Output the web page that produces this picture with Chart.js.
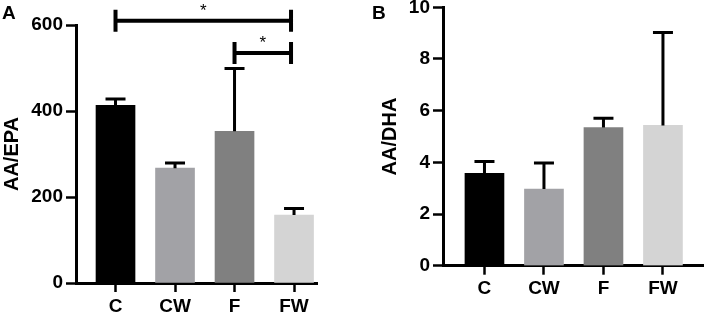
<!DOCTYPE html>
<html>
<head>
<meta charset="utf-8">
<script src="https://cdn.jsdelivr.net/npm/chart.js@4.4.0/dist/chart.umd.min.js"></script>
<style>
  html, body { margin: 0; padding: 0; background: #fff; }
  #wrap { position: relative; width: 706px; height: 315px; overflow: hidden; }
  .panel { position: absolute; top: 0; }
  .tag { position: absolute; font: bold 19px "Liberation Sans", Arial, sans-serif; line-height: 19px; color: #000; }
</style>
</head>
<body>
<div id="wrap">
  <canvas id="chartA" class="panel" style="left:0" width="350" height="315"></canvas>
  <canvas id="chartB" class="panel" style="left:350px" width="356" height="315"></canvas>
  <div class="tag" style="left:2px;top:3px">A</div>
  <div class="tag" style="left:372px;top:3px">B</div>
</div>
<script>
const groups = ['C', 'CW', 'F', 'FW'];
const barColors = ['#000000', '#a2a2a6', '#808080', '#d4d4d4'];

// panel A: AA/EPA, mean and upper error
const aaEpaMean = [413, 267, 353, 158];
const aaEpaErr = [15, 12, 146, 15];
const aaEpaTicks = [0, 200, 400, 600];

// significance brackets over panel A (group indexes, height in data units)
const sigPairs = [[0, 3], [2, 3]];
const sigLevels = [610, 535];
const sigMarks = ['*', '*'];

// panel B: AA/DHA
const aaDhaMean = [3.57, 2.97, 5.35, 5.43];
const aaDhaErr = [0.46, 1.0, 0.36, 3.59];
const aaDhaTicks = [0, 2, 4, 6, 8, 10];

const FONT = '"Liberation Sans", Arial, sans-serif';
Chart.defaults.font.family = FONT;
Chart.defaults.color = '#000';

// upward error bars with a cap
function errorBars(errors) {
  return {
    id: 'errorBars',
    afterDatasetsDraw(chart) {
      const { ctx, scales: { y } } = chart;
      const meta = chart.getDatasetMeta(0);
      const ds = chart.data.datasets[0];
      ctx.save();
      ctx.strokeStyle = '#000';
      ctx.lineWidth = 3;
      meta.data.forEach((bar, i) => {
        const top = y.getPixelForValue(ds.data[i].y + errors[i]);
        ctx.beginPath();
        ctx.moveTo(bar.x, bar.y);
        ctx.lineTo(bar.x, top);
        ctx.moveTo(bar.x - 10, top);
        ctx.lineTo(bar.x + 10, top);
        ctx.stroke();
      });
      ctx.restore();
    }
  };
}

const brackets = {
  id: 'brackets',
  afterDraw(chart) {
    const { ctx, scales: { x, y } } = chart;
    ctx.save();
    ctx.strokeStyle = '#000';
    ctx.fillStyle = '#000';
    ctx.lineWidth = 4;
    ctx.font = '17px ' + FONT;
    ctx.textAlign = 'center';
    ctx.textBaseline = 'alphabetic';
    sigPairs.forEach(([a, b], k) => {
      const x0 = x.getPixelForValue(a + 1);
      const x1 = x.getPixelForValue(b + 1) - 3;
      const yy = y.getPixelForValue(sigLevels[k]);
      ctx.beginPath();
      ctx.moveTo(x0, yy - 11); ctx.lineTo(x0, yy + 11);
      ctx.moveTo(x0, yy); ctx.lineTo(x1, yy);
      ctx.moveTo(x1, yy - 11); ctx.lineTo(x1, yy + 11);
      ctx.stroke();
      ctx.fillText(sigMarks[k], (x0 + x1) / 2, yy - 5);
    });
    ctx.restore();
  }
};

function makePanel(id, mean, err, ticks, title, box, extra) {
  return new Chart(document.getElementById(id), {
    type: 'bar',
    data: {
      datasets: [{
        data: mean.map((v, i) => ({ x: i + 1, y: v })),
        backgroundColor: barColors,
        borderWidth: 0,
        barThickness: 39
      }]
    },
    options: {
      responsive: false,
      animation: false,
      layout: { padding: { left: 0, top: box.top, right: box.right, bottom: 0 } },
      plugins: { legend: { display: false }, tooltip: { enabled: false } },
      scales: {
        x: {
          type: 'linear',
          min: box.xMin,
          max: box.xMax,
          offset: false,
          grid: { offset: false, drawOnChartArea: false, color: '#000', tickLength: 9, tickWidth: 2.5 },
          border: { color: '#000', width: 3 },
          afterBuildTicks: s => { s.ticks = groups.map((g, i) => ({ value: i + 1 })); },
          ticks: {
            callback: v => groups[v - 1],
            padding: 3,
            color: '#000',
            maxRotation: 0,
            autoSkip: false,
            font: { size: 19, weight: 'bold' }
          },
          afterFit: s => { s.height = box.xHeight; s.paddingLeft = 0; s.paddingRight = 0; }
        },
        y: {
          min: ticks[0],
          max: ticks[ticks.length - 1],
          afterBuildTicks: s => { s.ticks = ticks.map(v => ({ value: v })); },
          grid: { drawOnChartArea: false, color: '#000', tickLength: 10, tickWidth: 2.5 },
          border: { color: '#000', width: 3 },
          ticks: { padding: 3, color: '#000', font: { size: 19, weight: 'bold' } },
          title: {
            display: true,
            text: title,
            color: '#000',
            font: { size: 20, weight: 'bold' },
            padding: { top: box.titlePad, bottom: 0 }
          },
          afterFit: s => { s.width = box.yWidth; s.paddingTop = 0; s.paddingBottom = 0; }
        }
      }
    },
    plugins: [errorBars(err)].concat(extra || [])
  });
}

makePanel('chartA', aaEpaMean, aaEpaErr, aaEpaTicks, 'AA/EPA',
  { top: 25, right: 33, xHeight: 32, yWidth: 76, titlePad: 0, xMin: 0.336, xMax: 4.386 },
  [brackets]);

makePanel('chartB', aaDhaMean, aaDhaErr, aaDhaTicks, 'AA/DHA',
  { top: 7.3, right: 3, xHeight: 49.3, yWidth: 93, titlePad: 28, xMin: 0.303, xMax: 4.673 });
</script>
</body>
</html>
